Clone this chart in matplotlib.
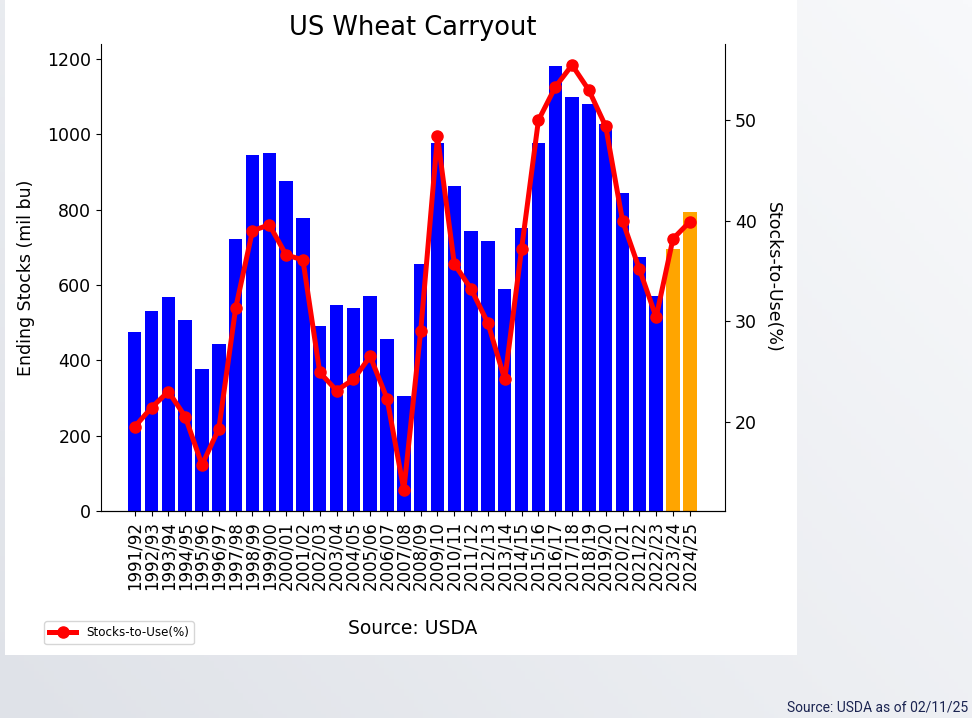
import matplotlib.pyplot as plt
import numpy as np
from matplotlib.patches import Rectangle
from matplotlib.colors import LinearSegmentedColormap

# data
years = ['1991/92', '1992/93', '1993/94', '1994/95', '1995/96', '1996/97', '1997/98',
         '1998/99', '1999/00', '2000/01', '2001/02', '2002/03', '2003/04', '2004/05',
         '2005/06', '2006/07', '2007/08', '2008/09', '2009/10', '2010/11', '2011/12',
         '2012/13', '2013/14', '2014/15', '2015/16', '2016/17', '2017/18', '2018/19',
         '2019/20', '2020/21', '2021/22', '2022/23', '2023/24', '2024/25']
ending_stocks = [475, 532, 568, 507, 376, 444, 722, 946, 950, 876, 777, 491, 546, 540,
                 571, 456, 306, 657, 976, 862, 743, 718, 590, 752, 976, 1181, 1100, 1080,
                 1028, 845, 674, 570, 696, 794]
stocks_to_use = [19.5, 21.4, 23.0, 20.5, 15.7, 19.3, 31.3, 39.0, 39.6, 36.6, 36.1, 24.9,
                 23.1, 24.2, 26.5, 22.3, 13.2, 29.0, 48.4, 35.7, 33.2, 29.8, 24.2, 37.2,
                 50.0, 53.3, 55.5, 53.0, 49.4, 40.0, 35.2, 30.4, 38.2, 39.9]
n_projected = 2  # last two years shown in orange

bar_colors = ['blue'] * (len(years) - n_projected) + ['orange'] * n_projected
x = np.arange(len(years))

fig = plt.figure(figsize=(9.72, 7.18), dpi=100)

# slide background gradient
bg = fig.add_axes([0, 0, 1, 1], zorder=-10)
gx, gy = np.meshgrid(np.linspace(0, 1, 200), np.linspace(0, 1, 200))
grad = np.clip(0.6 * gx + 0.4 * gy, 0, 1)
bg.imshow(grad, cmap=LinearSegmentedColormap.from_list('bg', ['#dfe2e8', '#f8f9fb']),
          extent=[0, 1, 0, 1], aspect='auto', origin='lower')
bg.axis('off')

# white chart panel
fig.patches.append(Rectangle((0.005, 0.088), 0.815, 0.912, transform=fig.transFigure,
                             facecolor='white', edgecolor='none', zorder=-5))

ax = fig.add_axes([0.104, 0.288, 0.642, 0.651])
ax.bar(x, ending_stocks, width=0.8, color=bar_colors)
ax.set_xlim(-2.0, 35.1)
ax.set_xticks(x)
ax.set_xticklabels(years, rotation=90, fontsize=12)
ax.tick_params(axis='y', labelsize=12.5)
ax.set_ylabel('Ending Stocks (mil bu)', fontsize=12.5, labelpad=9)
ax.set_title('US Wheat Carryout', fontsize=18.5)
ax.spines['top'].set_visible(False)
ax.spines['right'].set_visible(False)
ax.patch.set_alpha(0)

ax2 = ax.twinx()
ax2.plot(x, stocks_to_use, color='red', marker='o', linewidth=3.6, markersize=8,
         label='Stocks-to-Use(%)')
ax2.set_ylabel('Stocks-to-Use(%)', fontsize=12.5, rotation=270, labelpad=18)
ax2.tick_params(axis='y', labelsize=12.5)
ax2.spines['top'].set_visible(False)
ax2.spines['left'].set_visible(False)

fig.text(0.425, 0.124, 'Source: USDA', ha='center', va='center', fontsize=13.5)
fig.legend(loc='lower left', bbox_to_anchor=(0.0455, 0.103), fontsize=8.6,
           borderaxespad=0, handlelength=2.3, borderpad=0.4)
fig.text(0.996, 0.015, 'Source: USDA as of 02/11/25', ha='right', va='center',
         fontsize=10, color='#1b2451', family='Roboto')

fig.savefig('out.png', dpi=100)
